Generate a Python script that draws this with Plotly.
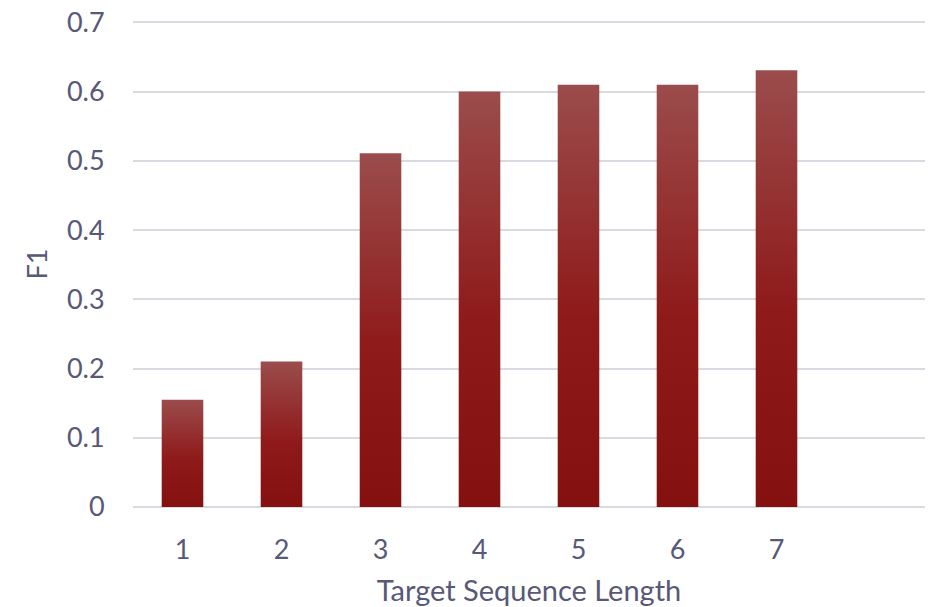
import plotly.graph_objects as go

categories = ["1", "2", "3", "4", "5", "6", "7"]
f1_values = [0.155, 0.21, 0.511, 0.60, 0.61, 0.61, 0.631]
y_ticks = [0, 0.1, 0.2, 0.3, 0.4, 0.5, 0.6, 0.7]
y_tick_labels = ["0", "0.1", "0.2", "0.3", "0.4", "0.5", "0.6", "0.7"]

TEXT = "#585878"
GRID = "#d9d9e2"
FONT = "Lato, Open Sans, sans-serif"
half_w = 0.21
grad = [[0.0, "#84100f"], [0.45, "#8f1a1a"], [1.0, "#9b4c4c"]]

fig = go.Figure()
for i, (c, v) in enumerate(zip(categories, f1_values)):
    xc = i + 1
    fig.add_trace(go.Scatter(
        x=[xc - half_w, xc + half_w, xc + half_w, xc - half_w, xc - half_w],
        y=[0, 0, v, v, 0],
        mode="lines",
        line=dict(width=0),
        fill="toself",
        fillgradient=dict(type="vertical", colorscale=grad),
        hoverinfo="text",
        text=f"{c}: {v}",
        showlegend=False,
    ))

fig.update_layout(
    width=934, height=607,
    margin=dict(l=133, r=9, t=21, b=100),
    paper_bgcolor="white", plot_bgcolor="white",
    font=dict(family=FONT, color=TEXT, size=27),
    xaxis=dict(
        range=[0.5, 8.5],
        tickvals=list(range(1, len(categories) + 1)),
        ticktext=categories,
        showgrid=False, zeroline=False, showline=False,
        ticks="outside", ticklen=19, tickcolor="rgba(0,0,0,0)",
        tickfont=dict(size=27, color=TEXT),
        title=dict(text="Target Sequence Length", font=dict(size=29, color=TEXT), standoff=25),
        automargin=False,
        fixedrange=True,
    ),
    yaxis=dict(
        range=[0, 0.702],
        tickvals=y_ticks, ticktext=y_tick_labels,
        showgrid=True, gridcolor=GRID, gridwidth=1.5,
        zeroline=True, zerolinecolor=GRID, zerolinewidth=1.5,
        showline=False,
        ticks="outside", ticklen=22, tickcolor="rgba(0,0,0,0)",
        ticklabeloverflow="allow",
        tickfont=dict(size=27, color=TEXT),
        title=dict(text="F1", font=dict(size=27, color=TEXT), standoff=11),
        automargin=False,
        fixedrange=True,
    ),
)

fig.write_html("out.html", config={"displayModeBar": False},
               post_script="document.body.style.margin='0';")
